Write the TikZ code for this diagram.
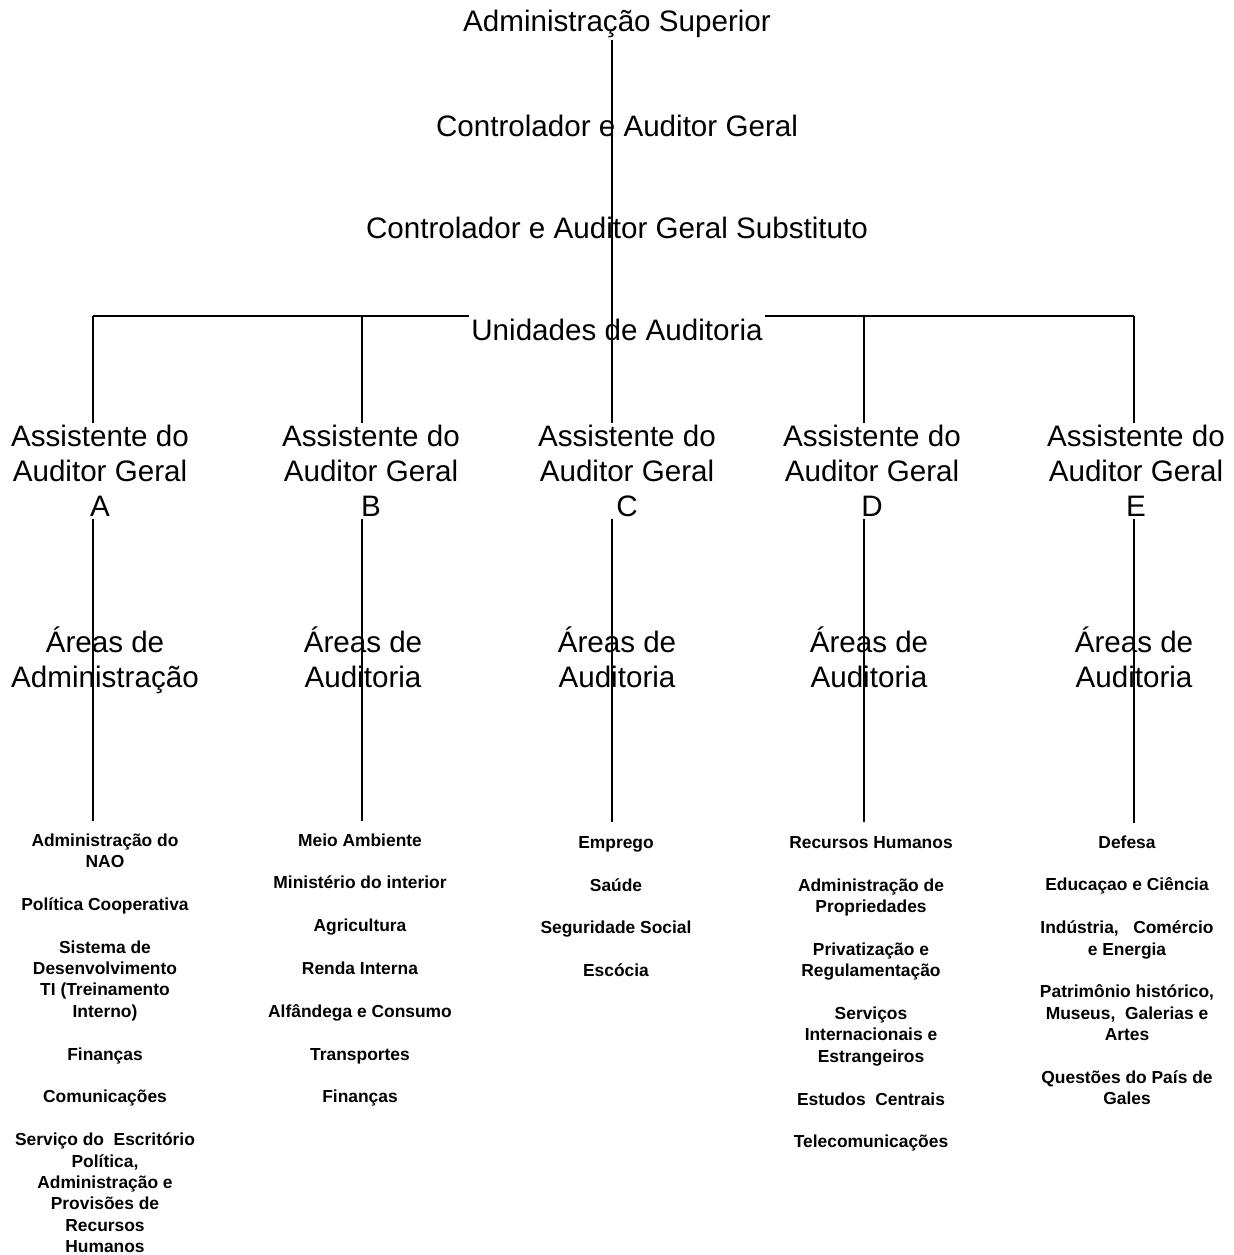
\documentclass[tikz,border=0pt]{standalone}
\usepackage{fontspec}
\setmainfont{Liberation Sans}
\usepackage{tikz}
\usetikzlibrary{positioning}

\tikzset{
  big/.style={font=\fontsize{14.8}{17.4}\selectfont, align=center, inner sep=1pt},
  small/.style={font=\bfseries\fontsize{8.7}{10.7}\selectfont, align=center, anchor=north, inner sep=0pt,
    execute at begin node={\rule{0pt}{9pt}}},
  conn/.style={line width=0.8pt}
}

\begin{document}
\begin{tikzpicture}[x=0.5pt,y=-0.5pt]
  \useasboundingbox (0,0) rectangle (1234,1255);
  % top of the chart
  \node[big] (sup) at (617,24) {Administração Superior};
  \node[big] (cag) at (617,126) {Controlador e Auditor Geral};
  \node[big] (cags) at (617,228) {Controlador e Auditor Geral Substituto};
  \node[big] (unid) at (617,330) {Unidades de Auditoria};
  % where the bar meets the columns
  \coordinate (barA) at (93,316);
  \coordinate (barB) at (362,316);
  \coordinate (barC) at (612,316);
  \coordinate (barD) at (864,316);
  \coordinate (barE) at (1134,316);
  % assistants
  \node[big] (asA) at (100,471) {Assistente do\\Auditor Geral\\A};
  \node[big] (asB) at (371,471) {Assistente do\\Auditor Geral\\B};
  \node[big] (asC) at (627,471) {Assistente do\\Auditor Geral\\C};
  \node[big] (asD) at (872,471) {Assistente do\\Auditor Geral\\D};
  \node[big] (asE) at (1136,471) {Assistente do\\Auditor Geral\\E};
  % areas
  \node[big] (arA) at (105,660) {Áreas de\\Administração};
  \node[big] (arB) at (363,657) {Áreas de\\Auditoria};
  \node[big] (arC) at (617,657) {Áreas de\\Auditoria};
  \node[big] (arD) at (869,657) {Áreas de\\Auditoria};
  \node[big] (arE) at (1134,657) {Áreas de\\Auditoria};
  % lists
  \node[small] (listA) at (105,833) {Administração do\\NAO\\[10.7pt]
    Política Cooperativa\\[10.7pt]
    Sistema de\\Desenvolvimento\\TI (Treinamento\\Interno)\\[10.7pt]
    Finanças\\[10.7pt]
    Comunicações\\[10.7pt]
    Serviço do\ \ Escritório\\Política,\\Administração e\\Provisões de\\Recursos\\Humanos};
  \node[small] (listB) at (360,833) {Meio Ambiente\\[10.7pt]
    Ministério do interior\\[10.7pt]
    Agricultura\\[10.7pt]
    Renda Interna\\[10.7pt]
    Alfândega e Consumo\\[10.7pt]
    Transportes\\[10.7pt]
    Finanças};
  \node[small] (listC) at (616,836) {Emprego\\[10.7pt]
    Saúde\\[10.7pt]
    Seguridade Social\\[10.7pt]
    Escócia};
  \node[small] (listD) at (871,836) {Recursos Humanos\\[10.7pt]
    Administração de\\Propriedades\\[10.7pt]
    Privatização e\\Regulamentação\\[10.7pt]
    Serviços\\Internacionais e\\Estrangeiros\\[10.7pt]
    Estudos\ \ Centrais\\[10.7pt]
    Telecomunicações};
  \node[small] (listE) at (1127,835) {Defesa\\[10.7pt]
    Educaçao e Ciência\\[10.7pt]
    Indústria,\ \ \ Comércio\\e Energia\\[10.7pt]
    Patrimônio histórico,\\Museus,\ \ Galerias e\\Artes\\[10.7pt]
    Questões do País de\\Gales};
  % connectors
  \draw[conn] (sup.south -| barC) -- (asC.north -| barC);
  \draw[conn] (barA) -- (unid.west |- barA);
  \draw[conn] (unid.east |- barE) -- (barE);
  \draw[conn] (barA) -- (asA.north -| barA);
  \draw[conn] (barB) -- (asB.north -| barB);
  \draw[conn] (barD) -- (asD.north -| barD);
  \draw[conn] (barE) -- (asE.north -| barE);
  \draw[conn,shorten >=6pt] (asA.south -| barA) -- (listA.north -| barA);
  \draw[conn,shorten >=6pt] (asB.south -| barB) -- (listB.north -| barB);
  \draw[conn,shorten >=7pt] (asC.south -| barC) -- (listC.north -| barC);
  \draw[conn,shorten >=7pt] (asD.south -| barD) -- (listD.north -| barD);
  \draw[conn,shorten >=6pt] (asE.south -| barE) -- (listE.north -| barE);
\end{tikzpicture}
\end{document}
